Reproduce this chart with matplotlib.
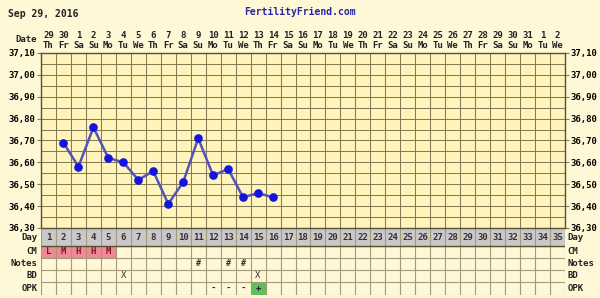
import matplotlib
matplotlib.use("Agg")
import matplotlib.pyplot as plt
import numpy as np
import pandas as pd

# chart data
start_date = "2016-09-29"
n_days = 35
temp_days = [2, 3, 4, 5, 6, 7, 8, 9, 10, 11, 12, 13, 14, 15, 16]
temps = [36.69, 36.58, 36.76, 36.62, 36.60, 36.52, 36.56, 36.41, 36.51,
         36.71, 36.54, 36.57, 36.44, 36.46, 36.44]
cm_days = [1, 2, 3, 4, 5]
cm_vals = ["L", "M", "H", "H", "M"]
note_days = [11, 13, 14]
bd_days = [6, 15]
opk_days = [12, 13, 14, 15]
opk_vals = ["-", "-", "-", "+"]
row_names = ["Day", "CM", "Notes", "BD", "OPK"]

dates = pd.date_range(start_date, periods=n_days)
date_nums = [str(d.day) for d in dates]
weekdays = [d.strftime("%a")[:2] for d in dates]

W, H = 600, 298
bg = "#fff8d6"
plot_bg = "#fff4bc"
cell_bg = "#fff9ea"
grid_c = "#857b55"
font = dict(family="DejaVu Sans Mono", weight="bold")

fig = plt.figure(figsize=(W / 100, H / 100), dpi=100, facecolor=bg)

# temperature panel
top, bot = 53, 228
left, right = 41, 565
ax = fig.add_axes([left / W, 1 - bot / H, (right - left) / W, (bot - top) / H])
ax.set_facecolor(plot_bg)
ax.set_xlim(0, n_days)
ax.set_ylim(36.30, 37.10)
yt = np.round(np.arange(36.30, 37.101, 0.1), 2)
ax.set_yticks(yt)
ax.set_yticklabels([f"{v:.2f}".replace(".", ",") for v in yt], fontsize=6.5, **font)
ax.set_yticks(np.arange(36.30, 37.10, 0.05), minor=True)
ax.set_xticks(np.arange(0, n_days + 1))
ax.set_xticklabels([])
ax.tick_params(axis="x", length=0)
ax.tick_params(axis="y", which="major", length=3, width=0.8, color=grid_c, pad=1,
               labelright=True, right=True)
ax.tick_params(axis="y", which="minor", length=0)
ax.grid(True, which="both", color=grid_c, lw=0.75)
for s in ax.spines.values():
    s.set_color("#5a5236")
    s.set_linewidth(1.0)

ax.plot(np.array(temp_days) - 0.5, temps, color="#5454b8", lw=1.8, zorder=3)
ax.plot(np.array(temp_days) - 0.5, temps, "o", color="#1414e0", ms=5.2, zorder=4)

tr = ax.get_xaxis_transform()
for i in range(n_days):
    ax.text(i + 0.5, 1 + 18 / 175, date_nums[i], transform=tr, ha="center", va="center",
            fontsize=6.5, color="#222222", **font)
    ax.text(i + 0.5, 1 + 7 / 175, weekdays[i], transform=tr, ha="center", va="center",
            fontsize=6.5, color="#222222", **font)
ax.text(-0.25, 1 + 13 / 175, "Date", transform=tr, ha="right", va="center",
        fontsize=6.5, color="#222222", **font)

fig.text(8 / W, 1 - 14 / H, "Sep 29, 2016", ha="left", va="center", fontsize=7,
         color="#222222", **font)
fig.text(300 / W, 1 - 12 / H, "FertilityFriend.com", ha="center", va="center",
         fontsize=7, color="#2525a5", **font)

# lower table
tb_top, tb_bot = 228, 295
bounds = [0, 18, 30, 42, 54, 67]
tab = fig.add_axes([left / W, 1 - tb_bot / H, (right - left) / W, (tb_bot - tb_top) / H])
tab.set_xlim(0, n_days)
tab.set_ylim(bounds[-1], 0)
tab.set_facecolor(cell_bg)
tab.axis("off")
tab.axhspan(0, bounds[1], color="#c9c9c9", zorder=0)
centers = [(bounds[k] + bounds[k + 1]) / 2 for k in range(len(row_names))]

tab.bar(np.array(cm_days) - 0.5, bounds[2] - bounds[1], bottom=bounds[1], width=1,
        color="#f08898", zorder=0)
tab.bar([opk_days[-1] - 0.5], bounds[5] - bounds[4], bottom=bounds[4], width=1,
        color="#5cc05c", zorder=0)
tab.vlines(np.arange(0, n_days + 1), 0, bounds[-1], color="#a39a7a", lw=0.8)
tab.hlines(bounds, 0, n_days, color="#a39a7a", lw=0.8)
tab.hlines([0, bounds[1]], 0, n_days, color="#5a5236", lw=1.0)

for i in range(n_days):
    tab.text(i + 0.5, centers[0], str(i + 1), ha="center", va="center", fontsize=6.5,
             color="#333333", **font)
for d, v in zip(cm_days, cm_vals):
    tab.text(d - 0.5, centers[1], v, ha="center", va="center", fontsize=6.5,
             color="#8a1020", **font)
for d in note_days:
    tab.text(d - 0.5, centers[2], "#", ha="center", va="center", fontsize=6,
             color="#333333", **font)
for d in bd_days:
    tab.text(d - 0.5, centers[3], "X", ha="center", va="center", fontsize=6.5,
             color="#333333", family="DejaVu Sans Mono")
for d, v in zip(opk_days, opk_vals):
    tab.text(d - 0.5, centers[4], v, ha="center", va="center", fontsize=6.5,
             color="#222222", **font)

for name, c in zip(row_names, centers):
    tab.text(-0.25, c, name, ha="right", va="center", fontsize=6.5, color="#222222", **font)
    tab.text(n_days + 0.15, c, name, ha="left", va="center", fontsize=6.5,
             color="#222222", **font)

fig.savefig("out.png", dpi=100, facecolor=bg)
